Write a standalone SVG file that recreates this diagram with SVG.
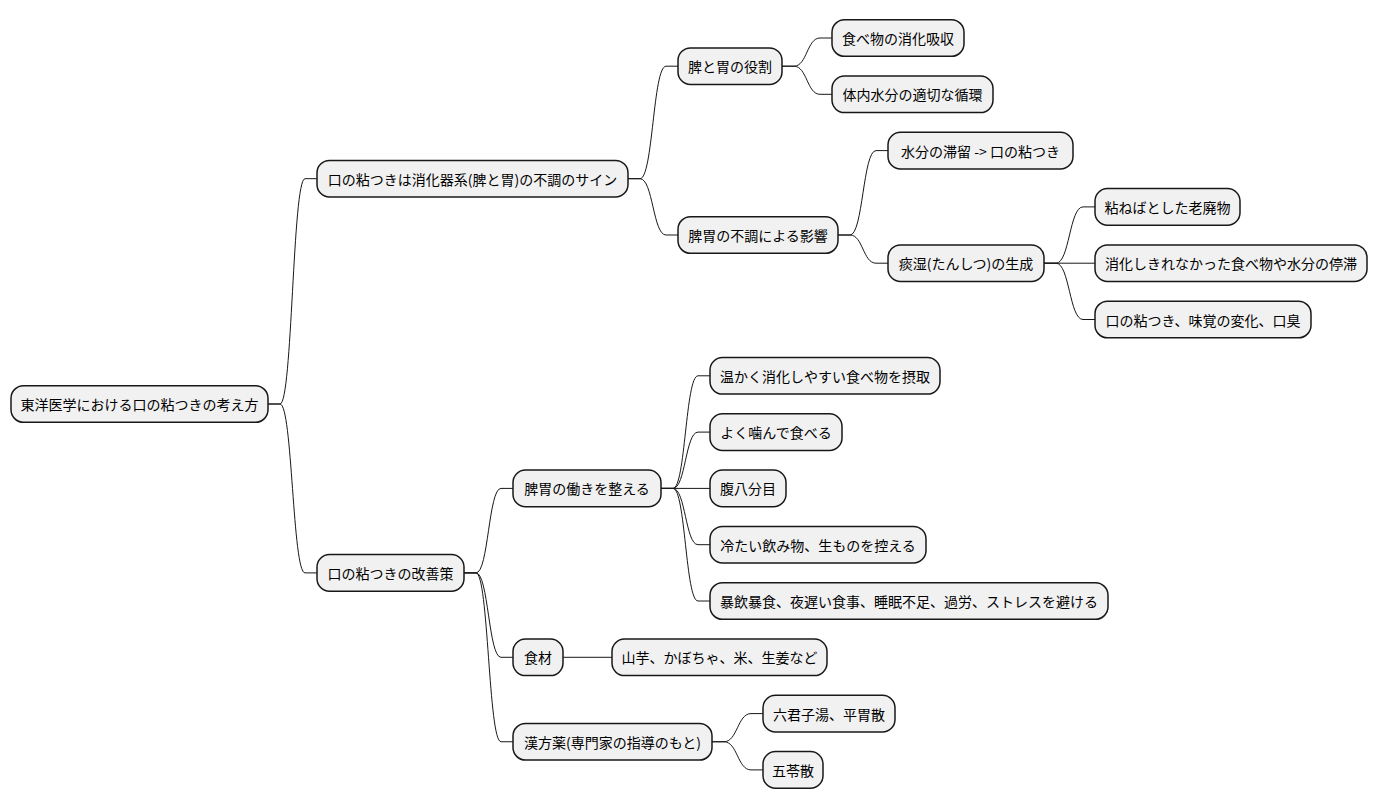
<svg xmlns="http://www.w3.org/2000/svg" width="1378" height="809" viewBox="0 0 1378 809">
<style>
.box{fill:#F1F1F1;stroke:#181818;stroke-width:1.5}
.t{font-family:"Noto Sans CJK JP","Noto Sans",sans-serif;font-size:14px;fill:#000000;text-anchor:middle;dominant-baseline:central}
.c path{fill:none;stroke:#181818;stroke-width:1}
</style>
<rect width="1378" height="809" fill="#FFFFFF"/>
<g class="c" id="connectors">
<path d="M268,404 H280 C292.5,404 292.5,178.7 305,178.7 H317"/>
<path d="M268,404 H280 C292.5,404 292.5,572.9 305,572.9 H317"/>
<path d="M628,178.7 H640 C653,178.7 653,66.2 666,66.2 H678"/>
<path d="M628,178.7 H640 C653,178.7 653,235 666,235 H678"/>
<path d="M782,66.2 H794 C807,66.2 807,38 820,38 H832"/>
<path d="M782,66.2 H794 C807,66.2 807,94.3 820,94.3 H832"/>
<path d="M838,235 H850 C863,235 863,150.6 876,150.6 H888"/>
<path d="M838,235 H850 C863,235 863,263.2 876,263.2 H888"/>
<path d="M1044,263.2 H1056 C1069.5,263.2 1069.5,206.9 1083,206.9 H1095"/>
<path d="M1044,263.2 H1095"/>
<path d="M1044,263.2 H1056 C1069.5,263.2 1069.5,319.5 1083,319.5 H1095"/>
<path d="M464,572.9 H476 C488.5,572.9 488.5,488.4 501,488.4 H513"/>
<path d="M464,572.9 H476 C488.5,572.9 488.5,657.3 501,657.3 H513"/>
<path d="M464,572.9 H476 C488.5,572.9 488.5,741.75 501,741.75 H513"/>
<path d="M661,488.4 H673 C685.5,488.4 685.5,375.8 698,375.8 H710"/>
<path d="M661,488.4 H673 C685.5,488.4 685.5,432.1 698,432.1 H710"/>
<path d="M661,488.4 H710"/>
<path d="M661,488.4 H673 C685.5,488.4 685.5,544.7 698,544.7 H710"/>
<path d="M661,488.4 H673 C685.5,488.4 685.5,601 698,601 H710"/>
<path d="M563,657.3 H612"/>
<path d="M712,741.75 H724 C737.5,741.75 737.5,713.6 751,713.6 H763"/>
<path d="M712,741.75 H724 C737.5,741.75 737.5,769.9 751,769.9 H763"/>
</g>
<g id="n0"><rect class="box" x="11" y="385.7" width="257" height="36.6" rx="12.5"/><text class="t" x="139.5" y="404">東洋医学における口の粘つきの考え方</text></g>
<g id="n1"><rect class="box" x="317" y="160.4" width="311" height="36.6" rx="12.5"/><text class="t" x="472.5" y="178.7">口の粘つきは消化器系(脾と胃)の不調のサイン</text></g>
<g id="n11"><rect class="box" x="678" y="47.9" width="104" height="36.6" rx="12.5"/><text class="t" x="730" y="66.2">脾と胃の役割</text></g>
<g id="n111"><rect class="box" x="832" y="19.7" width="132" height="36.6" rx="12.5"/><text class="t" x="898" y="38">食べ物の消化吸収</text></g>
<g id="n112"><rect class="box" x="832" y="76" width="161" height="36.6" rx="12.5"/><text class="t" x="912.5" y="94.3">体内水分の適切な循環</text></g>
<g id="n12"><rect class="box" x="678" y="216.7" width="160" height="36.6" rx="12.5"/><text class="t" x="758" y="235">脾胃の不調による影響</text></g>
<g id="n121"><rect class="box" x="888" y="132.3" width="185" height="36.6" rx="12.5"/><text class="t" x="980.5" y="150.6" xml:space="preserve">水分の滞留 -&gt; 口の粘つき</text></g>
<g id="n122"><rect class="box" x="888" y="244.9" width="156" height="36.6" rx="12.5"/><text class="t" x="966" y="263.2">痰湿(たんしつ)の生成</text></g>
<g id="n1221"><rect class="box" x="1095" y="188.6" width="145" height="36.6" rx="12.5"/><text class="t" x="1167.5" y="206.9">粘ねばとした老廃物</text></g>
<g id="n1222"><rect class="box" x="1095" y="244.9" width="272" height="36.6" rx="12.5"/><text class="t" x="1231" y="263.2">消化しきれなかった食べ物や水分の停滞</text></g>
<g id="n1223"><rect class="box" x="1095" y="301.2" width="216" height="36.6" rx="12.5"/><text class="t" x="1203" y="319.5">口の粘つき、味覚の変化、口臭</text></g>
<g id="n2"><rect class="box" x="317" y="554.6" width="147" height="36.6" rx="12.5"/><text class="t" x="390.5" y="572.9">口の粘つきの改善策</text></g>
<g id="n21"><rect class="box" x="513" y="470.1" width="148" height="36.6" rx="12.5"/><text class="t" x="587" y="488.4">脾胃の働きを整える</text></g>
<g id="n211"><rect class="box" x="710" y="357.5" width="230" height="36.6" rx="12.5"/><text class="t" x="825" y="375.8">温かく消化しやすい食べ物を摂取</text></g>
<g id="n212"><rect class="box" x="710" y="413.8" width="132" height="36.6" rx="12.5"/><text class="t" x="776" y="432.1">よく噛んで食べる</text></g>
<g id="n213"><rect class="box" x="710" y="470.1" width="76" height="36.6" rx="12.5"/><text class="t" x="748" y="488.4">腹八分目</text></g>
<g id="n214"><rect class="box" x="710" y="526.4" width="216" height="36.6" rx="12.5"/><text class="t" x="818" y="544.7">冷たい飲み物、生ものを控える</text></g>
<g id="n215"><rect class="box" x="710" y="582.7" width="398" height="36.6" rx="12.5"/><text class="t" x="909" y="601">暴飲暴食、夜遅い食事、睡眠不足、過労、ストレスを避ける</text></g>
<g id="n22"><rect class="box" x="513" y="639" width="50" height="36.6" rx="12.5"/><text class="t" x="538" y="657.3">食材</text></g>
<g id="n221"><rect class="box" x="612" y="639" width="215" height="36.6" rx="12.5"/><text class="t" x="719.5" y="657.3">山芋、かぼちゃ、米、生姜など</text></g>
<g id="n23"><rect class="box" x="513" y="723.45" width="199" height="36.6" rx="12.5"/><text class="t" x="612.5" y="741.75">漢方薬(専門家の指導のもと)</text></g>
<g id="n231"><rect class="box" x="763" y="695.3" width="132" height="36.6" rx="12.5"/><text class="t" x="829" y="713.6">六君子湯、平胃散</text></g>
<g id="n232"><rect class="box" x="763" y="751.6" width="60" height="36.6" rx="12.5"/><text class="t" x="793" y="769.9">五苓散</text></g>
</svg>
